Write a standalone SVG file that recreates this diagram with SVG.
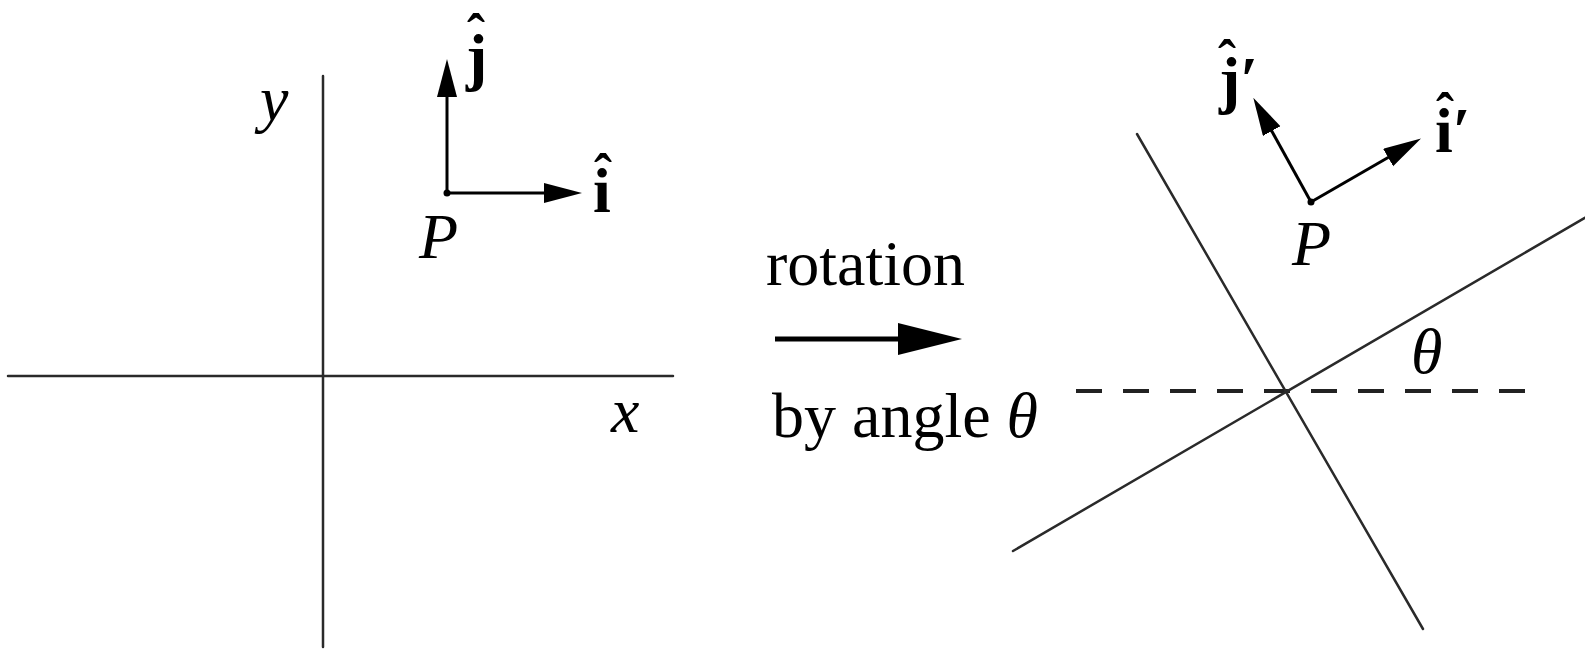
<svg xmlns="http://www.w3.org/2000/svg" width="1585" height="654" viewBox="0 0 1585 654">
<style>
.ax{stroke:#2a2a2a;stroke-width:2.5;fill:none;stroke-linecap:round}
.vec{stroke:#000;stroke-width:3;fill:none}
.dash{stroke:#222;stroke-width:4;stroke-dasharray:26 21;fill:none}
text{font-family:"Liberation Serif","Times New Roman",serif;font-size:64px;fill:#000}
.it{font-style:italic}
.bd{font-weight:bold}
.hat{font-size:54px}
</style>
<defs>
<marker id="ah" markerUnits="userSpaceOnUse" markerWidth="40" markerHeight="22" refX="18" refY="10" orient="auto" viewBox="0 0 40 22">
<path d="M0,0 L38,10 L0,20 Z" fill="#000"/>
</marker>
</defs>

<g id="left-axes">
<line class="ax" x1="8" y1="376" x2="673" y2="376"/>
<line class="ax" x1="323" y1="76" x2="323" y2="647"/>
<text class="it" x="260" y="120">y</text>
<text class="it" x="611" y="432">x</text>
</g>

<g id="left-frame">
<circle cx="447" cy="193" r="3.5" fill="#000"/>
<text class="it" x="419" y="258">P</text>
<text class="bd" x="466" y="78">j<tspan class="hat" x="467" y="52">ˆ</tspan></text>
<text class="bd" x="593" y="212">i<tspan class="hat" x="594" y="192">ˆ</tspan></text>
</g>

<g id="rotation-label">
<text x="766" y="285">rotation</text>
<text x="772" y="437">by angle <tspan class="it">θ</tspan></text>
<line x1="775" y1="339" x2="900" y2="339" stroke="#000" stroke-width="5"/>
<polygon points="898,323 962,339 898,355" fill="#000"/>
</g>

<g id="right-axes">
<line class="dash" x1="1076" y1="391" x2="1535" y2="391"/>
<line class="ax" x1="1013" y1="551" x2="1600" y2="209"/>
<line class="ax" x1="1137" y1="134" x2="1423" y2="629"/>
<text class="it" x="1411" y="373">θ</text>
</g>

<g id="right-frame">
<circle cx="1311" cy="202" r="3.5" fill="#000"/>
<text class="it" x="1292" y="265">P</text>
<text class="bd" x="1219" y="101">j′<tspan class="hat" x="1218" y="78">ˆ</tspan></text>
<text class="bd" x="1435" y="152">i′<tspan class="hat" x="1436" y="131">ˆ</tspan></text>
</g>

<g id="connectors">
<line class="vec" x1="447" y1="193" x2="562" y2="193" marker-end="url(#ah)"/>
<line class="vec" x1="447" y1="193" x2="447" y2="79" marker-end="url(#ah)"/>
<line class="vec" x1="1311" y1="202" x2="1403.7" y2="148.5" marker-end="url(#ah)"/>
<line class="vec" x1="1311" y1="202" x2="1263" y2="115.3" marker-end="url(#ah)"/>
</g>
</svg>
